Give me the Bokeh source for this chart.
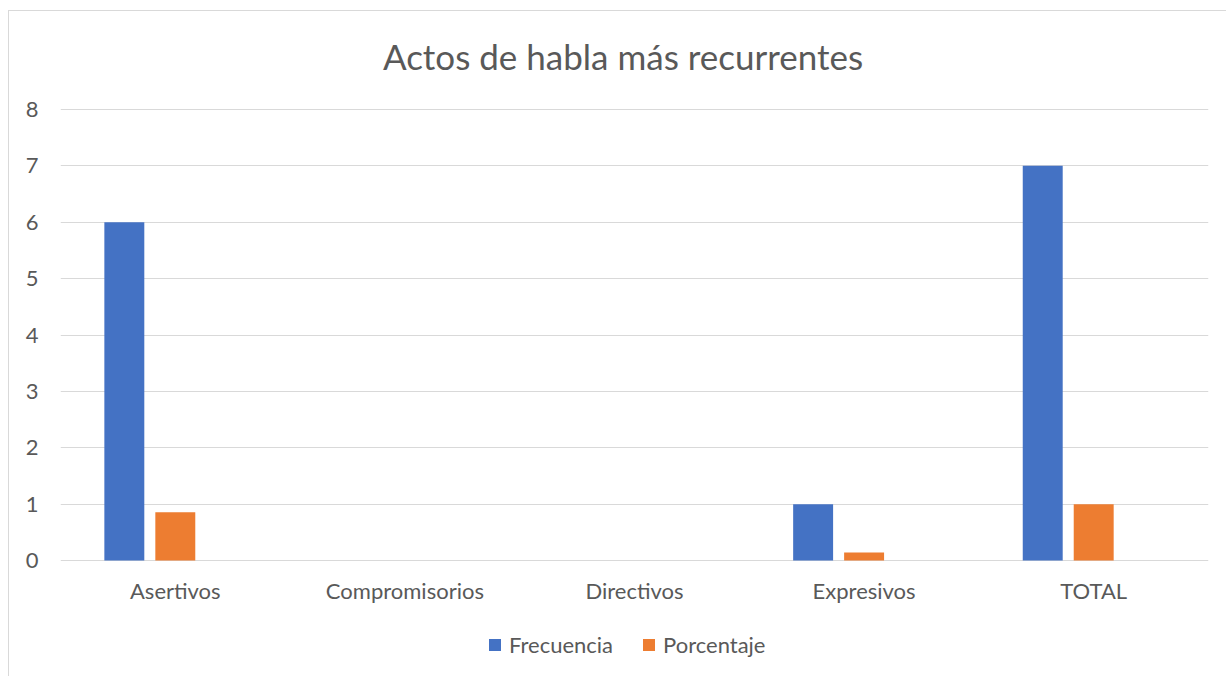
from bokeh.plotting import figure
from bokeh.models import ColumnDataSource, FactorRange, Legend, LegendItem, FixedTicker
from bokeh.core.properties import value
from bokeh.transform import dodge
from bokeh.embed import file_html
from bokeh.resources import INLINE

title_text = "Actos de habla más recurrentes"
categories = ["Asertivos", "Compromisorios", "Directivos", "Expresivos", "TOTAL"]
frecuencia = [6, 0, 0, 1, 7]
porcentaje = [0.857, 0, 0, 0.143, 1.0]
y_ticks = [0, 1, 2, 3, 4, 5, 6, 7, 8]

FONT = "Lato"
TXT = "#595959"
GRID = "#d9d9d9"

src = ColumnDataSource(dict(cat=categories, frecuencia=frecuencia, porcentaje=porcentaje,
                            base=[0] * len(categories)))

# frame fills the whole canvas; extra room above 8 and below 0 holds title, labels, legend
p = figure(x_range=FactorRange(factors=categories, range_padding=0), y_range=(-2.075, 9.738),
           width=1218, height=666, output_backend="svg", toolbar_location=None,
           min_border_left=51, min_border_right=19, min_border_top=0, min_border_bottom=0)
p.styles = {"margin-left": "8px", "margin-top": "10px",
            "border-left": "1px solid #d9d9d9", "border-top": "1px solid #d9d9d9"}

r1 = p.vbar(x=dodge("cat", -0.222, range=p.x_range), top="frecuencia", width=0.174,
            source=src, fill_color="#4472C4", line_color=None)
r2 = p.vbar(x=dodge("cat", 0.0, range=p.x_range), top="porcentaje", width=0.174,
            source=src, fill_color="#ED7D31", line_color=None)

# category labels below the zero line
p.text(x="cat", y="base", text="cat", source=src, text_align="center", text_baseline="middle",
       y_offset=30, text_font=value(FONT), text_font_size="22px", text_color=TXT)

# chart title, centred above the plot area
p.text(x=[categories[2]], y=[y_ticks[-1]], text=[title_text], text_align="center",
       text_baseline="middle", x_offset=-11.5, y_offset=-53, text_font=value(FONT),
       text_font_size="35px", text_color=TXT)

p.outline_line_color = None
p.xgrid.grid_line_color = None
p.ygrid.grid_line_color = GRID
p.ygrid.grid_line_width = 1
p.yaxis.ticker = FixedTicker(ticks=y_ticks)
p.xaxis.visible = False

ax = p.yaxis[0]
ax.major_tick_line_color = None
ax.minor_tick_line_color = None
ax.major_tick_in = 0
ax.major_tick_out = 0
ax.major_label_text_font = FONT
ax.major_label_text_font_size = "22px"
ax.major_label_text_color = TXT
ax.axis_line_color = None
ax.major_label_standoff = 22

legend = Legend(items=[LegendItem(label="Frecuencia", renderers=[r1]),
                       LegendItem(label="Porcentaje", renderers=[r2])],
                orientation="horizontal", location=(427, 19),
                label_text_font=FONT, label_text_font_size="22px", label_text_color=TXT,
                glyph_width=15, glyph_height=15, spacing=28, label_standoff=7,
                padding=0, margin=0, border_line_color=None, background_fill_alpha=0)
p.add_layout(legend, "center")

open("out.html", "w").write(file_html(p, INLINE))
